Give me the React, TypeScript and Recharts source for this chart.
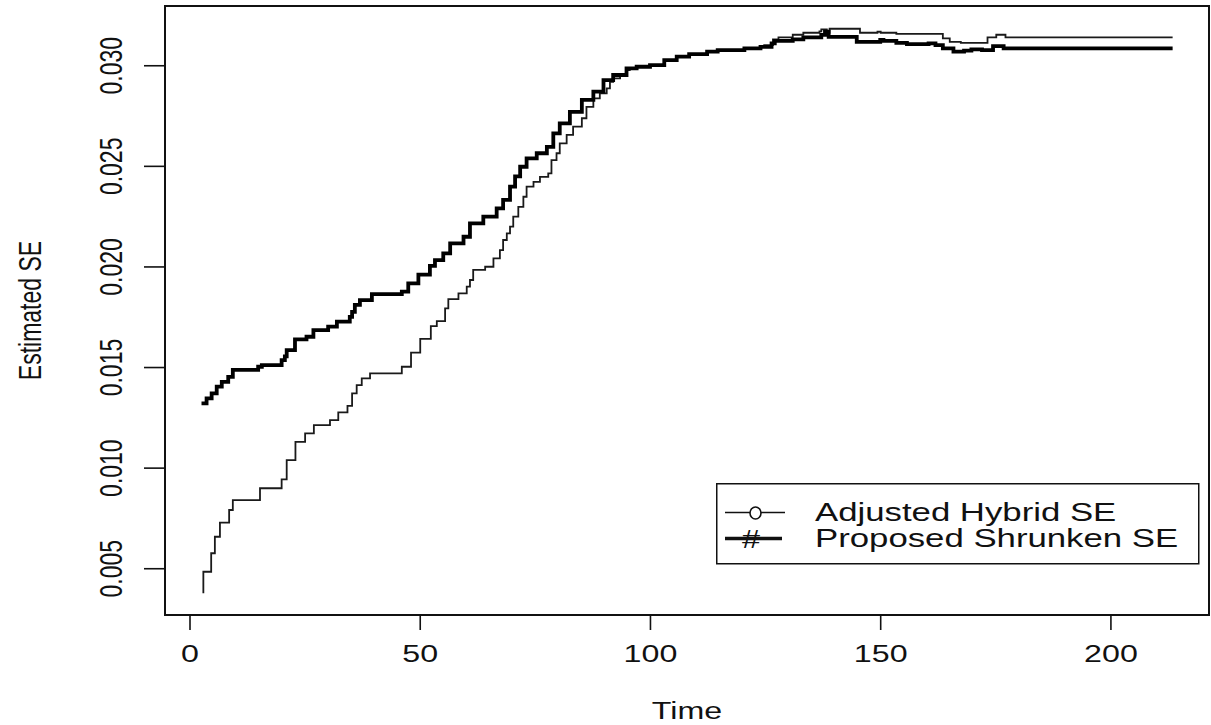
import React from 'react';
import { LineChart, Line, XAxis, YAxis, ReferenceArea, Legend } from 'recharts';

const hybridTime = [2.9, 2.9, 4.6, 5.4, 6.5, 8.5, 9.3, 15.2, 19.9, 21.0, 22.9, 25.0, 26.9, 30.4, 32.2, 34.2, 35.2, 36.2, 37.3, 39.1, 46.0, 48.0, 50.0, 52.3, 53.6, 55.4, 56.1, 58.3, 60.1, 60.8, 61.5, 64.1, 65.9, 67.3, 68.0, 68.8, 69.5, 70.2, 71.3, 72.4, 73.1, 74.6, 76.0, 77.8, 78.5, 79.6, 80.3, 81.8, 83.2, 85.1, 86.1, 87.6, 89.0, 90.5, 91.2, 91.9, 93.4, 94.8, 95.5, 97.0, 99.9, 103.0, 105.7, 108.4, 112.3, 114.6, 120.4, 123.9, 124.7, 126.6, 127.8, 130.9, 133.2, 136.7, 137.1, 138.3, 138.9, 145.5, 149.3, 150.0, 153.4, 163.5, 165.0, 167.4, 173.2, 175.1, 177.1, 213.4];
const hybridSE = [0.00378, 0.00485, 0.00577, 0.00659, 0.00729, 0.00792, 0.00841, 0.00900, 0.00944, 0.01040, 0.01131, 0.01173, 0.01214, 0.01239, 0.01277, 0.01309, 0.01372, 0.01413, 0.01446, 0.01471, 0.01504, 0.01574, 0.01642, 0.01706, 0.01731, 0.01794, 0.01840, 0.01869, 0.01902, 0.01935, 0.01985, 0.02001, 0.02043, 0.02084, 0.02134, 0.02167, 0.02200, 0.02250, 0.02299, 0.02349, 0.02399, 0.02423, 0.02448, 0.02465, 0.02531, 0.02565, 0.02614, 0.02656, 0.02697, 0.02739, 0.02796, 0.02838, 0.02863, 0.02888, 0.02920, 0.02937, 0.02954, 0.02979, 0.02987, 0.02995, 0.03003, 0.03028, 0.03045, 0.03058, 0.03070, 0.03078, 0.03086, 0.03094, 0.03103, 0.03131, 0.03141, 0.03154, 0.03164, 0.03171, 0.03181, 0.03164, 0.03184, 0.03164, 0.03169, 0.03164, 0.03158, 0.03136, 0.03119, 0.03114, 0.03141, 0.03154, 0.03141, 0.03141];

const shrunkenTime = [2.5, 3.6, 4.7, 5.8, 6.9, 8.3, 9.3, 14.8, 15.6, 19.9, 20.6, 21.0, 22.8, 25.3, 26.8, 30.0, 31.9, 34.7, 35.2, 35.8, 36.9, 39.5, 46.0, 47.4, 49.6, 52.1, 53.2, 55.0, 56.5, 59.4, 60.8, 63.7, 66.6, 68.0, 69.5, 70.6, 71.7, 73.1, 75.3, 77.5, 78.9, 80.3, 82.5, 85.1, 87.6, 89.8, 91.9, 94.8, 97.0, 99.9, 103.0, 105.7, 108.4, 112.3, 114.6, 120.4, 123.9, 126.3, 127.0, 130.9, 133.2, 137.1, 137.9, 138.7, 144.8, 149.9, 150.6, 153.4, 155.7, 160.4, 161.9, 163.5, 165.8, 168.1, 169.7, 172.0, 174.4, 176.7, 213.4];
const shrunkenSE = [0.01322, 0.01347, 0.01372, 0.01405, 0.01429, 0.01454, 0.01488, 0.01504, 0.01512, 0.01537, 0.01555, 0.01587, 0.01640, 0.01653, 0.01686, 0.01703, 0.01728, 0.01752, 0.01777, 0.01811, 0.01835, 0.01865, 0.01877, 0.01918, 0.01962, 0.02005, 0.02034, 0.02067, 0.02117, 0.02150, 0.02217, 0.02250, 0.02291, 0.02333, 0.02399, 0.02450, 0.02498, 0.02540, 0.02565, 0.02597, 0.02664, 0.02714, 0.02771, 0.02830, 0.02871, 0.02929, 0.02954, 0.02987, 0.02995, 0.03003, 0.03028, 0.03045, 0.03058, 0.03070, 0.03078, 0.03086, 0.03094, 0.03111, 0.03124, 0.03131, 0.03141, 0.03153, 0.03169, 0.03144, 0.03119, 0.03128, 0.03124, 0.03114, 0.03108, 0.03111, 0.03103, 0.03086, 0.03070, 0.03075, 0.03081, 0.03078, 0.03098, 0.03086, 0.03086];

const xTicks = [0, 50, 100, 150, 200];
const yTicks = [0.005, 0.01, 0.015, 0.02, 0.025, 0.03];
const yTickLabels = ['0.005', '0.010', '0.015', '0.020', '0.025', '0.030'];
const seriesNames = ['Adjusted Hybrid SE', 'Proposed Shrunken SE'];
const legendSymbols = ['o', '#'];
const xTitle = 'Time';
const yTitle = 'Estimated SE';

const xDomain = [-5.43, 221.3];
const yDomain = [0.0027, 0.03297];

const FONT = '"Liberation Sans", Arial, Helvetica, sans-serif';
const SX = 1.4;

const hybridData = hybridTime.map((t, i) => ({ t, v: hybridSE[i] }));
const shrunkenData = shrunkenTime.map((t, i) => ({ t, v: shrunkenSE[i] }));

const XTick = (props: any) => {
  const { x, y, payload } = props;
  return (
    <text transform={`translate(${x},${y + 30}) scale(${SX},1)`} textAnchor="middle" fontSize={23} fontFamily={FONT} fill="#111">
      {String(payload.value)}
    </text>
  );
};

const YTick = (props: any) => {
  const { x, y, payload } = props;
  const idx = yTicks.findIndex((v) => Math.abs(v - payload.value) < 1e-9);
  const label = idx >= 0 ? yTickLabels[idx] : String(payload.value);
  return (
    <text transform={`translate(${x - 20},${y}) scale(${SX},1) rotate(-90)`} textAnchor="middle" fontSize={23} fontFamily={FONT} fill="#111">
      {label}
    </text>
  );
};

const XTitle = (props: any) => {
  const vb = props.viewBox;
  const cx = vb.x + vb.width / 2;
  return (
    <text transform={`translate(${cx},${vb.y + 104}) scale(${SX},1)`} textAnchor="middle" fontSize={23} fontFamily={FONT} fill="#111">
      {xTitle}
    </text>
  );
};

const YTitle = (props: any) => {
  const vb = props.viewBox;
  const cy = vb.y + vb.height / 2;
  return (
    <text transform={`translate(41,${cy}) scale(${SX},1) rotate(-90)`} textAnchor="middle" fontSize={23} fontFamily={FONT} fill="#111">
      {yTitle}
    </text>
  );
};

const LegendBox = () => {
  const rows = [29.5, 55.5];
  return (
    <svg width={484} height={82} style={{ display: 'block' }}>
      <rect x={0.75} y={0.75} width={482} height={80} fill="#fff" stroke="#111" strokeWidth={1.5} />
      {seriesNames.map((name, i) => (
        <g key={name}>
          <line x1={9} x2={i === 0 ? 69 : 66} y1={rows[i]} y2={rows[i]} stroke="#111" strokeWidth={i === 0 ? 1.6 : 3.6} />
          {i === 0 ? (
            <ellipse cx={39.5} cy={rows[i] + 0.5} rx={5.5} ry={6} fill="#fff" stroke="#111" strokeWidth={1.6} />
          ) : (
            <text transform={`translate(35,${rows[i] + 9}) scale(1.3,1)`} textAnchor="middle" fontSize={25} fontFamily={FONT} fill="#111">
              {legendSymbols[1]}
            </text>
          )}
          <text transform={`translate(99,${rows[i] + 8}) scale(1.39,1)`} fontSize={25} fontFamily={FONT} fill="#111">
            {name}
          </text>
        </g>
      ))}
    </svg>
  );
};

export default function App() {
  return (
    <div style={{ position: 'absolute', left: 0, top: 0, width: 1211, height: 725, background: '#fff' }}>
      <LineChart width={1211} height={725} margin={{ top: 6, right: 2, bottom: 0, left: 0 }}>
        <XAxis
          type="number"
          dataKey="t"
          domain={xDomain}
          ticks={xTicks}
          allowDataOverflow
          height={110}
          tickSize={15}
          axisLine={false}
          tickLine={{ stroke: '#111', strokeWidth: 1.6 }}
          tick={<XTick />}
          label={<XTitle />}
        />
        <YAxis
          type="number"
          domain={yDomain}
          ticks={yTicks}
          allowDataOverflow
          width={165}
          tickSize={21}
          axisLine={false}
          tickLine={{ stroke: '#111', strokeWidth: 1.6 }}
          tick={<YTick />}
          label={<YTitle />}
        />
        <ReferenceArea x1={xDomain[0]} x2={xDomain[1]} y1={yDomain[0]} y2={yDomain[1]} fill="none" stroke="#111" strokeWidth={2} ifOverflow="visible" />
        <Line data={hybridData} dataKey="v" name={seriesNames[0]} type="stepAfter" stroke="#1a1a1a" strokeWidth={1.8} dot={false} isAnimationActive={false} />
        <Line data={shrunkenData} dataKey="v" name={seriesNames[1]} type="stepAfter" stroke="#000" strokeWidth={3.8} dot={false} isAnimationActive={false} />
        <Legend
          layout="vertical"
          align="center"
          verticalAlign="middle"
          content={<LegendBox />}
          wrapperStyle={{ position: 'absolute', left: 716, top: 483, width: 484, height: 82 }}
        />
      </LineChart>
    </div>
  );
}
